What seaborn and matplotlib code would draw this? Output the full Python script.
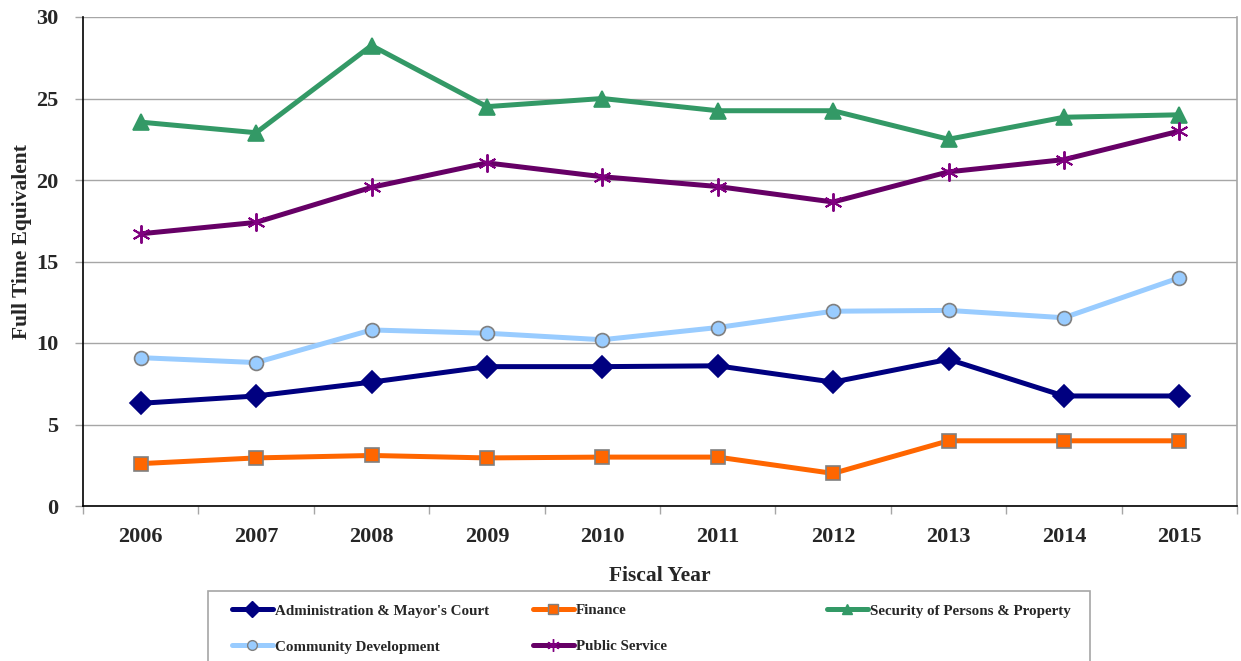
import matplotlib
matplotlib.use("Agg")

import numpy as np
import pandas as pd
import matplotlib.pyplot as plt
import seaborn as sns
from matplotlib.patches import Rectangle
from matplotlib.lines import Line2D

# ─── Data ────────────────────────────────────────────────────────────────────
years = [2006, 2007, 2008, 2009, 2010, 2011, 2012, 2013, 2014, 2015]

admin     = [6.3, 6.75, 7.6, 8.55, 8.55, 8.6, 7.6, 9.0, 6.75, 6.75]
finance   = [2.6, 2.95, 3.1, 2.95, 3.0, 3.0, 2.0, 4.0, 4.0, 4.0]
security  = [23.55, 22.9, 28.25, 24.5, 25.0, 24.25, 24.25, 22.5, 23.85, 24.0]
community = [9.1, 8.8, 10.8, 10.6, 10.2, 10.95, 11.95, 12.0, 11.55, 14.0]
public    = [16.7, 17.4, 19.55, 21.05, 20.2, 19.6, 18.65, 20.5, 21.25, 23.0]

labels = ["Administration & Mayor's Court", "Finance",
          "Security of Persons & Property", "Community Development",
          "Public Service"]

# colour, marker, marker size, marker edge colour
styles = {
    labels[0]: ("#000080", "D", 11, "#000080"),
    labels[1]: ("#FF6600", "s", 10, "#808080"),
    labels[2]: ("#339966", "^", 11, "#339966"),
    labels[3]: ("#99CCFF", "o", 10, "#808080"),
    labels[4]: ("#660066", (6, 2, 0), 13, "#800080"),
}

df = pd.DataFrame({"year": years * 5,
                   "fte": admin + finance + security + community + public,
                   "dept": np.repeat(labels, len(years))})

sns.set_style("white")
plt.rcParams["font.family"] = ["Liberation Serif", "DejaVu Serif"]
plt.rcParams["font.weight"] = "bold"

fig = plt.figure(figsize=(12.41, 6.61), dpi=100)
ax = fig.add_axes([83 / 1241, 155 / 661, 1154 / 1241, 489 / 661])

handles = {}
for name in labels:
    col, mk, ms, mec = styles[name]
    sub = df[df.dept == name]
    star = name == labels[4]
    sns.lineplot(data=sub, x="year", y="fte", ax=ax, color=col, lw=3.6,
                 marker=mk, markersize=ms, markeredgecolor=mec,
                 markerfacecolor="none" if star else col,
                 markeredgewidth=1.4 if star else 1.2,
                 legend=False)
    handles[name] = Line2D([], [], color=col, lw=3.6, marker=mk,
                           markersize=ms * 0.7, markeredgecolor=mec,
                           markerfacecolor="none" if star else col)

# ─── Axes styling ────────────────────────────────────────────────────────────
ax.set_xlim(2005.5, 2015.5)
ax.set_ylim(0, 30)
ax.set_yticks(range(0, 31, 5))
ax.set_xticks(years)
ax.set_xticks(np.arange(2005.5, 2016, 1), minor=True)
ax.grid(axis="y", color="#A6A6A6", lw=1)
ax.set_axisbelow(True)

for side in ["left", "bottom"]:
    ax.spines[side].set_color("black")
    ax.spines[side].set_linewidth(1.2)
ax.spines["top"].set_visible(False)
ax.spines["right"].set_color("#A6A6A6")
ax.spines["right"].set_linewidth(1.2)

ax.tick_params(axis="y", length=6, color="#A6A6A6", width=1, pad=12,
               labelsize=16, left=True)
ax.tick_params(axis="x", which="major", length=0, pad=15, labelsize=16)
ax.tick_params(axis="x", which="minor", length=6, color="#A6A6A6", width=1,
               bottom=True)
for t in ax.get_xticklabels() + ax.get_yticklabels():
    t.set_fontweight("bold")

ax.set_xlabel("Fiscal Year", fontsize=15.5, fontweight="bold", labelpad=14)
ax.set_ylabel("Full Time Equivalent", fontsize=15.5, fontweight="bold")
ax.yaxis.set_label_coords(-0.044, 0.54)

# ─── Legend box: three columns of equal width, like the Excel original ──────
fig.patches.append(Rectangle((208 / 1241, -0.02), 882 / 1241, 70 / 661 + 0.02,
                             transform=fig.transFigure, fill=False,
                             edgecolor="#A6A6A6", lw=1.2))
columns = [[labels[0], labels[3]], [labels[1], labels[4]], [labels[2]]]
col_x = [232, 533, 827]
for names, x in zip(columns, col_x):
    fig.legend([handles[n] for n in names], names, loc="upper left",
               bbox_to_anchor=(x / 1241, 57 / 661), frameon=False,
               borderpad=0, borderaxespad=0, handlelength=2.7,
               handletextpad=0.15, labelspacing=1.5,
               prop={"family": "Liberation Serif", "weight": "bold",
                     "size": 10.8})

fig.savefig("out.png", dpi=100, facecolor="white")
